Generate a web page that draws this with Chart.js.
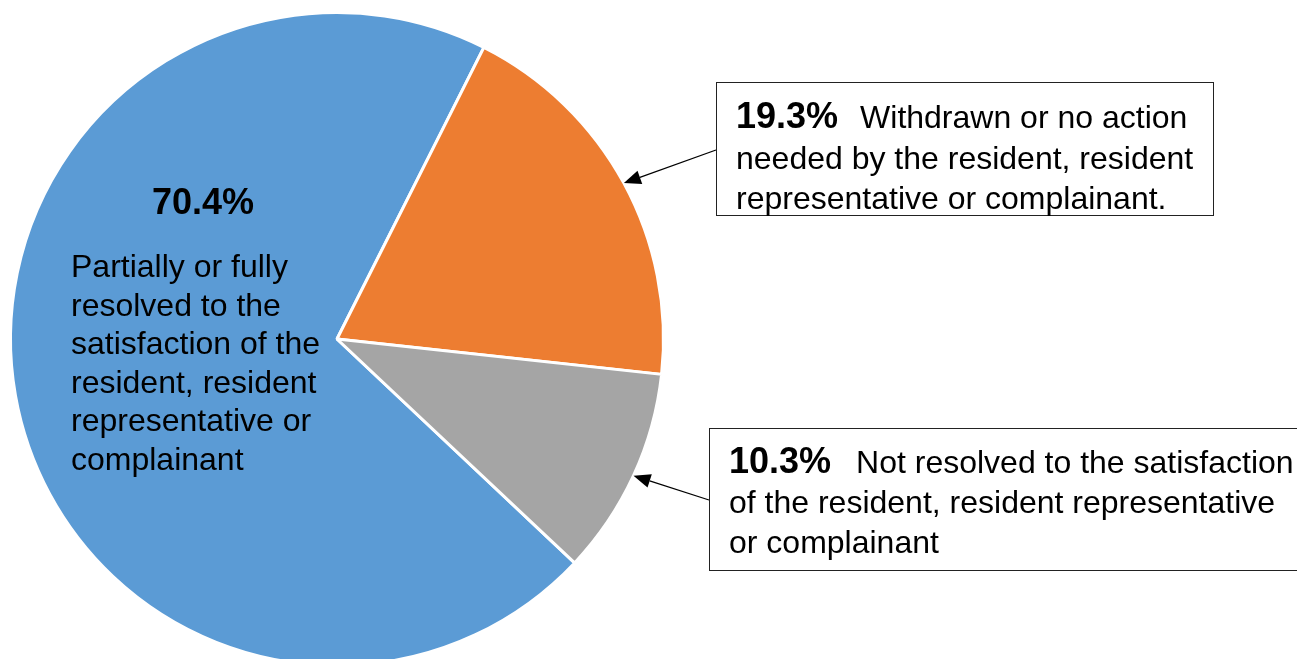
<!DOCTYPE html>
<html>
<head>
<meta charset="utf-8">
<script src="https://cdn.jsdelivr.net/npm/chart.js@4.4.1/dist/chart.umd.min.js"></script>
<style>
  html, body { margin: 0; padding: 0; background: #fff; overflow: hidden; }
  #wrap { position: relative; width: 1297px; height: 700px; }
</style>
</head>
<body>
<div id="wrap"><canvas id="pie"></canvas></div>
<script>
// Data
const categories = [
    'Partially or fully resolved to the satisfaction of the resident, resident representative or complainant',
    'Withdrawn or no action needed by the resident, resident representative or complainant.',
    'Not resolved to the satisfaction of the resident, resident representative or complainant'
];
const shares = [70.4, 19.3, 10.3];
const sliceColors = ['#5B9BD5', '#ED7D31', '#A5A5A5'];

const FONT = '"Liberation Sans", Arial, Helvetica, sans-serif';

// Text drawn inside the big slice and in the two callout boxes
const insideLines = ['Partially or fully', 'resolved to the', 'satisfaction of the',
    'resident, resident', 'representative or', 'complainant'];
const orangeLines = ['Withdrawn or no action', 'needed by the resident, resident',
    'representative or complainant.'];
const grayLines = ['Not resolved to the satisfaction', 'of the resident, resident representative',
    'or complainant'];

function drawArrow(c, x1, y1, x2, y2) {
    const ang = Math.atan2(y2 - y1, x2 - x1);
    const len = 17, half = 7;
    const bx = x2 - len * Math.cos(ang), by = y2 - len * Math.sin(ang);
    c.strokeStyle = '#000';
    c.lineWidth = 1.3;
    c.beginPath();
    c.moveTo(x1, y1);
    c.lineTo(bx, by);
    c.stroke();
    c.fillStyle = '#000';
    c.beginPath();
    c.moveTo(x2, y2);
    c.lineTo(bx + half * Math.sin(ang), by - half * Math.cos(ang));
    c.lineTo(bx - half * Math.sin(ang), by + half * Math.cos(ang));
    c.closePath();
    c.fill();
}

function drawBox(c, box, pct, lines) {
    c.strokeStyle = '#222';
    c.lineWidth = 1;
    c.fillStyle = '#fff';
    c.fillRect(box.x, box.y, box.w, box.h);
    c.strokeRect(box.x + 0.5, box.y + 0.5, box.w, box.h);
    c.fillStyle = '#000';
    c.textAlign = 'left';
    c.textBaseline = 'alphabetic';
    c.font = 'bold 36px ' + FONT;
    c.fillText(pct, box.tx, box.ty);
    const w = c.measureText(pct).width;
    c.font = '32px ' + FONT;
    c.fillText(lines[0], box.tx + w + box.gap, box.ty);
    for (let i = 1; i < lines.length; i++) {
        c.fillText(lines[i], box.tx, box.ty + i * box.lh);
    }
}

const calloutPlugin = {
    id: 'callouts',
    afterDraw(chart) {
        const c = chart.ctx;
        const arcs = chart.getDatasetMeta(0).data;
        c.save();

        // label in the big slice
        c.fillStyle = '#000';
        c.textAlign = 'center';
        c.font = 'bold 36px ' + FONT;
        c.fillText(shares[0].toFixed(1) + '%', 203, 214);
        c.textAlign = 'left';
        c.font = '32px ' + FONT;
        insideLines.forEach((t, i) => c.fillText(t, 71, 277 + i * 38.5));

        // arrows to the middle of the outer edge of each small slice
        const tip = (a) => {
            const mid = (a.startAngle + a.endAngle) / 2;
            return [a.x + a.outerRadius * Math.cos(mid), a.y + a.outerRadius * Math.sin(mid)];
        };
        const t1 = tip(arcs[1]);
        const t2 = tip(arcs[2]);
        drawArrow(c, 716, 150, t1[0], t1[1]);
        drawArrow(c, 709, 500, t2[0], t2[1]);

        drawBox(c, { x: 716, y: 82, w: 497, h: 133, tx: 736, ty: 128, lh: 40.5, gap: 22 },
            shares[1].toFixed(1) + '%', orangeLines);
        drawBox(c, { x: 709, y: 428, w: 600, h: 142, tx: 729, ty: 473, lh: 40, gap: 25 },
            shares[2].toFixed(1) + '%', grayLines);
        c.restore();
    }
};

new Chart(document.getElementById('pie'), {
    type: 'pie',
    data: {
        labels: categories,
        datasets: [{
            data: shares,
            backgroundColor: sliceColors,
            borderColor: '#ffffff',
            borderWidth: 3
        }]
    },
    options: {
        responsive: true,
        maintainAspectRatio: false,
        animation: false,
        rotation: 133.3,
        layout: { padding: { left: 9, right: 632, top: 11, bottom: 33 } },
        plugins: {
            legend: { display: false },
            tooltip: { enabled: false }
        }
    },
    plugins: [calloutPlugin]
});
</script>
</body>
</html>
